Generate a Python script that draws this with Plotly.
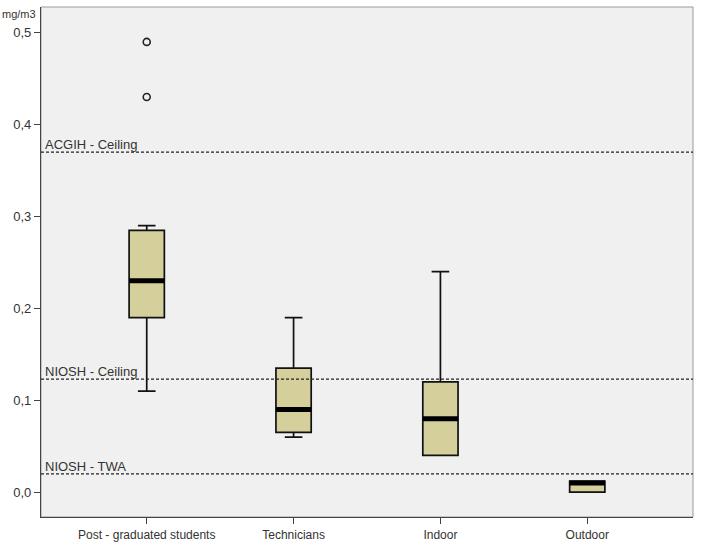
import plotly.graph_objects as go

categories = ["Post - graduated students", "Technicians", "Indoor", "Outdoor"]
lower_whisker = [0.11, 0.06, 0.04, 0.0]
q1_vals = [0.19, 0.065, 0.04, 0.0]
median_vals = [0.23, 0.09, 0.08, 0.01]
q3_vals = [0.285, 0.135, 0.12, 0.012]
upper_whisker = [0.29, 0.19, 0.24, 0.012]
outlier_cat = [0, 0]
outlier_vals = [0.43, 0.49]
ref_labels = ["ACGIH - Ceiling", "NIOSH - Ceiling", "NIOSH - TWA"]
ref_values = [0.37, 0.123, 0.02]
y_ticks = [0.0, 0.1, 0.2, 0.3, 0.4, 0.5]

positions = list(range(len(categories)))
box_w = 0.24
font_fam = "Liberation Sans, Arial, sans-serif"

fig = go.Figure()
fig.add_trace(go.Box(
    x=positions, q1=q1_vals, median=median_vals, q3=q3_vals,
    lowerfence=lower_whisker, upperfence=upper_whisker,
    width=box_w, whiskerwidth=0.5,
    fillcolor="#d5cf9c", line=dict(color="#111111", width=1.7),
    boxpoints=False, showlegend=False, hoverinfo="skip",
))
# thick median bars
for p, m in zip(positions, median_vals):
    fig.add_trace(go.Scatter(
        x=[p - box_w / 2, p + box_w / 2], y=[m, m], mode="lines",
        line=dict(color="#000000", width=5), showlegend=False, hoverinfo="skip",
    ))
fig.add_trace(go.Scatter(
    x=outlier_cat, y=outlier_vals, mode="markers",
    marker=dict(symbol="circle-open", size=7, color="#222222", line=dict(width=1.6)),
    showlegend=False, hoverinfo="skip",
))

shapes = [dict(type="rect", xref="paper", yref="paper", x0=0, x1=1, y0=0, y1=1,
               line=dict(color="#9a9a9a", width=1), layer="below")]
annotations = []
for lab, v in zip(ref_labels, ref_values):
    shapes.append(dict(type="line", xref="x domain", yref="y", x0=0, x1=1, y0=v, y1=v,
                       line=dict(color="#222222", width=1.2, dash="3px,2px")))
    annotations.append(dict(xref="x domain", yref="y", x=0.003, y=v, text=lab,
                            showarrow=False, xanchor="left", yanchor="bottom", yshift=-2,
                            font=dict(size=13, color="#333333", family=font_fam)))
annotations.append(dict(xref="paper", yref="paper", x=-0.063, y=0.986, text="mg/m3",
                        showarrow=False, xanchor="left", yanchor="middle",
                        font=dict(size=11, color="#333333", family=font_fam)))

fig.update_layout(
    width=702, height=549,
    margin=dict(l=41, r=9, t=7, b=32),
    paper_bgcolor="white", plot_bgcolor="#f0f0f0",
    separators=",.",
    font=dict(family=font_fam, size=12, color="#333333"),
    shapes=shapes, annotations=annotations,
    xaxis=dict(range=[-0.72, 3.72], tickvals=positions, ticktext=categories,
               ticks="outside", ticklen=6, tickcolor="#444444", showgrid=False,
               zeroline=False, showline=True, linecolor="#444444", linewidth=1.2,
               automargin=False, tickfont=dict(size=12, color="#333333")),
    yaxis=dict(range=[-0.027, 0.528], tickvals=y_ticks, tickformat=".1f",
               ticks="outside", ticklen=6, tickcolor="#444444", showgrid=False,
               zeroline=False, showline=True, linecolor="#444444", linewidth=1.2,
               automargin=False, tickfont=dict(size=13, color="#333333")),
)
fig.write_html("out.html", config={"displayModeBar": False},
               post_script="document.body.style.margin='0';")
